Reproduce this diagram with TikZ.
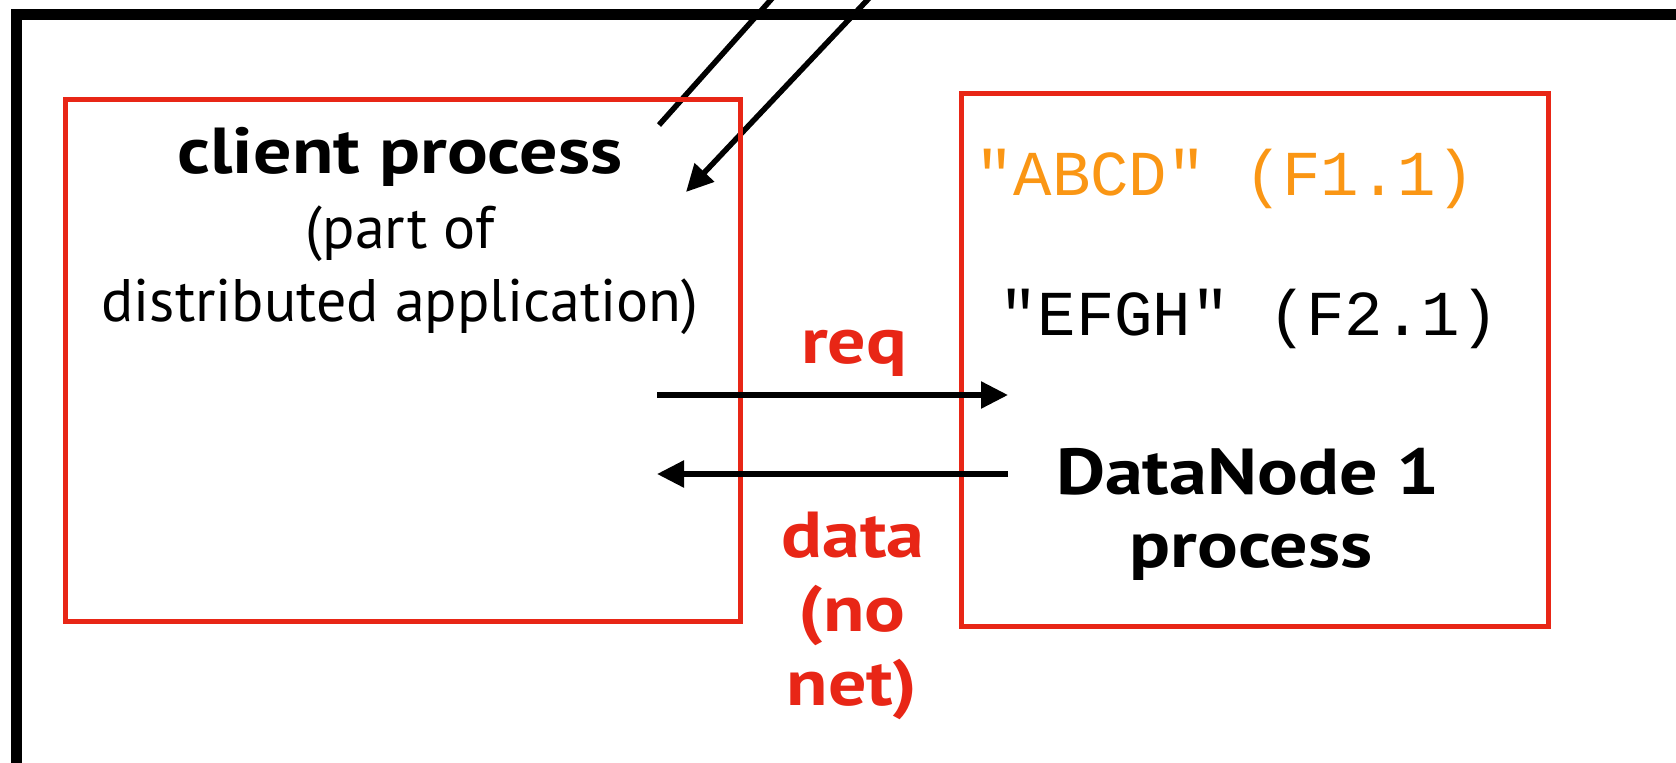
\documentclass[tikz,border=0pt]{standalone}
\usepackage{fontspec}
\setmainfont{PT Sans}
\newfontfamily\boldfont{PT Sans Bold}[FakeStretch=1.17]
\newfontfamily\monofont{Liberation Mono}
\usetikzlibrary{arrows.meta}
\definecolor{boxred}{RGB}{232,38,22}
\definecolor{txtorange}{RGB}{250,150,20}
\begin{document}
\begin{tikzpicture}[x=1pt,y=-1pt,
  redbox/.style={draw=boxred, line width=5pt, inner sep=0pt, anchor=north west},
  lbl/.style={anchor=base, inner sep=0pt, font=\fontsize{60}{64}\selectfont},
  lblb/.style={anchor=base, inner sep=0pt, font=\fontsize{65}{70}\selectfont\boldfont},
  redlbl/.style={lblb, text=boxred},
  monolbl/.style={anchor=base, inner sep=0pt, font=\fontsize{64}{70}\selectfont\monofont},
  arr/.style={line width=5.5pt, -{Triangle[length=27pt,width=26pt]}},
  frame/.style={line width=10.5pt}
]
\useasboundingbox (0,0) rectangle (1676,763);
\begin{scope}
\clip (0,0) rectangle (1676,763);
\coordinate (fb) at (16.5,800);
\coordinate (ftl) at (16.5,14.5);
\coordinate (fr) at (1720,14.5);
\draw[frame] (fb) -- (ftl) -- (fr);
\coordinate (d1a) at (659,125);
\coordinate (d1b) at (776,-6);
\draw[line width=5.5pt] (d1a) -- (d1b);
\coordinate (d2a) at (873,-6);
\coordinate (d2b) at (686,192);
\draw[arr] (d2a) -- (d2b);
\end{scope}

\node[redbox, minimum width=675pt, minimum height=522pt] (client) at (63,96.5) {};
\node[redbox, minimum width=587pt, minimum height=533pt] (datanode) at (959,91) {};

\node[lblb] (c1) at (400,173) {client process};
\node[lbl] (c2) at (400,248) {(part of};
\node[lbl] (c3) at (400,321) {distributed application)};

\node[monolbl, text=txtorange] (m1) at (1225,195) {"ABCD" (F1.1)};
\node[monolbl] (m2) at (1249,335) {"EFGH" (F2.1)};

\node[lblb] (dn1) at (1248,494) {DataNode 1};
\node[lblb] (dn2) at (1251,567) {process};

\node[redlbl] (req) at (854,363) {req};
\node[redlbl] (dt1) at (853,557) {data};
\node[redlbl] (dt2) at (852,631) {(no};
\node[redlbl] (dt3) at (852,705) {net)};

\coordinate (rqs) at (657,395);
\coordinate (rqe) at (1008,395);
\coordinate (dts) at (1008,474);
\coordinate (dte) at (657,474);
\draw[arr] (rqs) -- (rqe);
\draw[arr] (dts) -- (dte);
\end{tikzpicture}
\end{document}
